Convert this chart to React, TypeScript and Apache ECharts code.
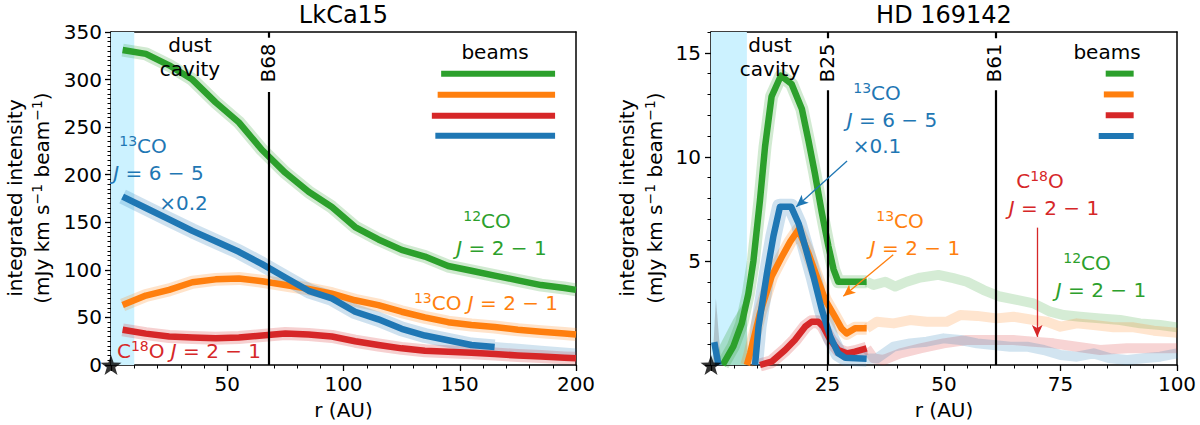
import React, { useEffect, useRef } from "react";
import * as echarts from "echarts";

const FONT = "DejaVu Sans";
const GREEN = "#2ca02c";
const ORANGE = "#ff7f0e";
const RED = "#d62728";
const BLUE = "#1f77b4";
const CAVITY = "#ccf2ff";

// ---------------- LkCa15 (left panel) ----------------
const lkR = [5, 15, 25, 35, 45, 55, 65, 75, 85, 95, 105, 115, 125, 135, 145, 155, 165, 175, 185, 195, 200];
const lk12CO = [331, 327, 315, 300, 276, 255, 226, 202, 182, 166, 145, 132, 121, 114, 104, 99, 94, 89, 84, 81, 79];
const lk13CO = [63, 73, 79, 87, 90, 91, 88, 84, 80, 75, 68, 63, 56, 50, 45, 42, 40, 37, 35, 33, 32];
const lkC18O = [37, 33, 30, 29, 28, 29, 31, 33, 32, 30, 25, 21, 17.5, 15, 14, 13, 11.5, 10, 9, 7.5, 7];
const lk65R = [5, 15, 25, 35, 45, 55, 65, 75, 85, 95, 105, 115, 125, 135, 145, 155, 165];
const lk65 = [177, 165, 153, 141, 130, 119, 106, 92, 78, 70, 56, 48, 38, 31, 26, 21, 19];
const lk65TailR = [165, 175, 185, 200];
const lk65Tail = [19, 17, 15, 12];
const lkBeamStart = [142, 140.5, 138, 139.5]; // 12CO, 13CO, C18O, 13CO 6-5
const lkBeamY = [306, 284, 262, 241];
const lkBeamEnd = 191;
const lkCavity = 10;
const lkRings = [68];
const lkRingTop = 287;
const lkRingTickFrom = 344;

// ---------------- HD 169142 (right panel) ----------------
const hd12R = [2.5, 4.8, 6.6, 8, 9.1, 10.5, 11.6, 13, 15, 17.3, 19.5, 20.9, 22.3, 23.8, 25.2, 26.3, 27.3, 33.4];
const hd12 = [0, 0.9, 2.0, 3.4, 5.0, 7.9, 10.5, 12.9, 13.9, 13.5, 12.3, 10.8, 9.2, 7.3, 5.7, 4.6, 4.0, 4.0];
const hd12TailR = [33.4, 34.9, 37.4, 39.5, 42, 44.9, 48.8, 52, 54.9, 58.5, 62, 65.6, 69.2, 72.8, 75.7, 79.2, 83.5, 87.8, 92.1, 96.4, 100];
const hd12Tail = [4.0, 3.85, 4.0, 3.77, 4.0, 4.2, 4.33, 4.17, 4.0, 3.6, 3.29, 3.13, 2.96, 2.56, 2.4, 2.32, 2.24, 2.16, 2.0, 1.92, 1.81];
const hd12ErrR = [1.0, 2.0, 4.8, 7.5, 8.0];
const hd12Err = [0, 1.0, 2.2, 3.2, 0];

const hd13R = [7.7, 8.4, 10.5, 13, 15.2, 17, 18.75, 20.9, 22.7, 24.5, 26.6, 28, 29.1, 30.9, 33.4];
const hd13 = [0, 0.56, 2.48, 4.25, 5.2, 5.93, 6.5, 5.37, 4.25, 3.13, 2.32, 1.76, 1.52, 1.76, 1.76];
const hd13TailR = [33.4, 35.6, 39.2, 42.7, 46.3, 50.6, 53.5, 57.1, 61.3, 64.9, 69.2, 72.1, 75, 78.5, 82.1, 86.4, 90.7, 95, 100];
const hd13Tail = [1.76, 2.08, 2.0, 2.16, 2.08, 2.08, 2.4, 2.36, 2.24, 2.32, 2.16, 2.08, 1.84, 2.0, 1.92, 1.81, 1.81, 1.65, 1.55];

const hd18R = [10.5, 13, 15.9, 18, 20.2, 21.6, 23, 24.1, 25.6, 27.3, 29.1, 30.9, 33.4];
const hd18 = [0, 0.16, 0.72, 1.2, 1.84, 2.08, 2.08, 1.84, 1.2, 0.72, 0.56, 0.64, 0.8];
const hd18TailR = [33.4, 34.9, 37, 40.6, 44.9, 49.9, 54.9, 60.6, 64.9, 69.2, 73.5, 78.5, 83.5, 89.3, 94.3, 100];
const hd18Tail = [0.8, 0.32, 0.24, 0.56, 0.8, 1.04, 1.2, 1.2, 1.2, 1.12, 1.04, 0.88, 0.72, 0.8, 0.8, 0.8];

const hd65StartR = [0.7, 1.6];
const hd65Start = [1.1, 0];
const hd65R = [9.45, 10.2, 12, 13.4, 14.8, 17.2, 18.8, 20.2, 22, 23.8, 25.6, 27.3, 28.8, 33.4];
const hd65 = [0, 1.84, 4.4, 6.2, 7.6, 7.6, 6.8, 5.7, 4.25, 2.64, 1.36, 0.56, 0.35, 0.3];
const hd65TailR = [33.4, 35.6, 39.2, 42.7, 46.3, 49.9, 53.5, 57.1, 60.6, 64.2, 67.8, 71.4, 75, 78.5, 82.1, 85.7, 89.3, 92.8, 96.4, 100];
const hd65Tail = [0.3, 0.32, 0.88, 1.04, 1.12, 1.28, 1.2, 1.04, 0.96, 0.88, 0.88, 0.72, 0.48, 0.4, 0.56, 0.32, 0.24, 0.32, 0.4, 0.56];

const hdSpikeR = [0.3, 1.05, 2.2];
const hdSpike = [0, 3.2, 0];

const hdBeamStart = [84.7, 84.3, 84.7, 83.2];
const hdBeamY = [14, 13, 12, 11];
const hdBeamEnd = 90.7;
const hdCavity = 7.7;
const hdRings = [25, 61];
const hdRingTop = 13.2;
const hdRingTickFrom = 15.7;
const hdArrowFrom = [[29.2, 9.8], [39.1, 5.3], [70, 6.6]];
const hdArrowTo = [[18.3, 7.6], [28.4, 3.3], [70, 1.35]];
const hdArrowColors = [BLUE, ORANGE, RED];

const BEAM_COLORS = [GREEN, ORANGE, RED, BLUE];

const STAR =
  "path://M0,-10L2.35,-3.24L9.51,-3.09L3.8,1.24L5.88,8.09L0,4L-5.88,8.09L-3.8,1.24L-9.51,-3.09L-2.35,-3.24Z";

const pairs = (xs: number[], ys: number[]) => xs.map((x, i) => [x, ys[i]]);

function lineS(g: number, xs: number[], ys: number[], color: string, width: number, opacity: number, z: number) {
  return {
    type: "line",
    xAxisIndex: g,
    yAxisIndex: g,
    data: pairs(xs, ys),
    symbol: "none",
    showSymbol: false,
    silent: true,
    z,
    lineStyle: { color, width, opacity, cap: "butt", join: "round" },
    emphasis: { disabled: true },
  };
}

function areaS(g: number, xs: number[], ys: number[], color: string, opacity: number) {
  return {
    type: "line",
    xAxisIndex: g,
    yAxisIndex: g,
    data: pairs(xs, ys),
    symbol: "none",
    silent: true,
    z: 2,
    lineStyle: { width: 0 },
    areaStyle: { color, opacity },
  };
}

const rich = (c: string) => ({
  n: { fill: c, fontSize: 20, fontFamily: FONT, lineHeight: 24 },
  s: { fill: c, fontSize: 14, fontFamily: FONT, lineHeight: 13, verticalAlign: "top" },
  i: { fill: c, fontSize: 20, fontFamily: FONT, fontStyle: "italic", lineHeight: 24 },
});

function txt(text: string, x: number, y: number, color = "#000", rotate = false, size = 20) {
  return {
    type: "text",
    x,
    y,
    rotation: rotate ? Math.PI / 2 : 0,
    z: 100,
    silent: true,
    style: {
      text,
      rich: rich(color),
      fill: color,
      fontSize: size,
      fontFamily: FONT,
      align: "center",
      verticalAlign: "middle",
    },
  };
}

const axisLineStyle = { color: "#000", width: 1.5 };

function xAxisMain(g: number, max: number, interval: number) {
  return {
    type: "value",
    gridIndex: g,
    min: 0,
    max,
    interval,
    axisLine: { show: true, onZero: false, lineStyle: axisLineStyle },
    axisTick: { show: true, length: 6, lineStyle: { color: "#000", width: 1.3 } },
    minorTick: { show: true, splitNumber: 5, length: 3.5, lineStyle: { color: "#000", width: 1 } },
    axisLabel: {
      color: "#000",
      fontSize: 20,
      fontFamily: FONT,
      margin: 9,
      formatter: (v: number) => (v === 0 ? "" : String(v)),
    },
    splitLine: { show: false },
    minorSplitLine: { show: false },
  };
}

function edgeAxis(g: number, position: string) {
  return {
    type: "value",
    gridIndex: g,
    position,
    min: 0,
    max: 1,
    axisLine: { show: true, onZero: false, lineStyle: axisLineStyle },
    axisTick: { show: false },
    axisLabel: { show: false },
    splitLine: { show: false },
  };
}

function beamSeries(g: number, starts: number[], ys: number[], end: number) {
  return starts.map((s, i) => ({
    type: "line",
    xAxisIndex: g,
    yAxisIndex: g,
    data: [
      [s, ys[i]],
      [end, ys[i]],
    ],
    symbol: "none",
    silent: true,
    z: 4,
    lineStyle: { color: BEAM_COLORS[i], width: 6, cap: "butt" },
  }));
}

function ringLines(g: number, rings: number[], top: number, tickFrom: number, ymax: number) {
  const data: any[] = [];
  rings.forEach((r) => {
    data.push([{ coord: [r, 0] }, { coord: [r, top] }]);
    data.push([{ coord: [r, tickFrom] }, { coord: [r, ymax] }]);
  });
  return {
    type: "line",
    xAxisIndex: g,
    yAxisIndex: g,
    data: [],
    silent: true,
    z: 6,
    markLine: {
      silent: true,
      symbol: ["none", "none"],
      label: { show: false },
      lineStyle: { color: "#000", width: 2.2, type: "solid" },
      emphasis: { disabled: true },
      data,
    },
  };
}

function cavitySeries(g: number, r: number) {
  return {
    type: "line",
    xAxisIndex: g,
    yAxisIndex: g,
    data: [],
    silent: true,
    z: 1,
    markArea: {
      silent: true,
      itemStyle: { color: CAVITY },
      emphasis: { disabled: true },
      data: [[{ xAxis: 0 }, { xAxis: r }]],
    },
  };
}

function starSeries(g: number) {
  return {
    type: "scatter",
    xAxisIndex: g,
    yAxisIndex: g,
    data: [[0, 0]],
    symbol: STAR,
    symbolSize: 21,
    symbolKeepAspect: true,
    itemStyle: { color: "#000" },
    clip: false,
    silent: true,
    z: 10,
  };
}

const BAND_W = 13;
const BAND_O = 0.22;
const MAIN_W = 6.5;
const TAIL_O = 0.2;
const TAIL_W = 10;

const series: any[] = [
  cavitySeries(0, lkCavity),
  cavitySeries(1, hdCavity),
  // left bands
  lineS(0, lkR, lk12CO, GREEN, BAND_W, BAND_O, 2),
  lineS(0, lkR, lk13CO, ORANGE, BAND_W, BAND_O, 2),
  lineS(0, lkR, lkC18O, RED, BAND_W, BAND_O, 2),
  lineS(0, lk65R, lk65, BLUE, BAND_W + 2, BAND_O, 2),
  lineS(0, lk65TailR, lk65Tail, BLUE, TAIL_W, TAIL_O, 2),
  // left main
  lineS(0, lkR, lk12CO, GREEN, MAIN_W, 1, 3),
  lineS(0, lkR, lk13CO, ORANGE, MAIN_W, 1, 3),
  lineS(0, lkR, lkC18O, RED, MAIN_W, 1, 3),
  lineS(0, lk65R, lk65, BLUE, MAIN_W, 1, 3),
  // right tails (faint)
  lineS(1, hd12TailR, hd12Tail, GREEN, TAIL_W, TAIL_O, 2),
  lineS(1, hd13TailR, hd13Tail, ORANGE, TAIL_W, TAIL_O, 2),
  lineS(1, hd18TailR, hd18Tail, RED, TAIL_W, TAIL_O, 2),
  lineS(1, hd65TailR, hd65Tail, BLUE, TAIL_W, TAIL_O, 2),
  areaS(1, hdSpikeR, hdSpike, "#7f7f7f", 0.4),
  areaS(1, hd12ErrR, hd12Err, GREEN, 0.25),
  // right bands
  lineS(1, hd12R, hd12, GREEN, BAND_W, BAND_O, 2),
  lineS(1, hd13R, hd13, ORANGE, BAND_W, BAND_O, 2),
  lineS(1, hd18R, hd18, RED, BAND_W, BAND_O, 2),
  lineS(1, hd65R, hd65, BLUE, BAND_W + 3, BAND_O, 2),
  // right main
  lineS(1, hd12R, hd12, GREEN, MAIN_W, 1, 3),
  lineS(1, hd13R, hd13, ORANGE, MAIN_W, 1, 3),
  lineS(1, hd18R, hd18, RED, MAIN_W, 1, 3),
  lineS(1, hd65StartR, hd65Start, BLUE, MAIN_W, 1, 3),
  lineS(1, hd65R, hd65, BLUE, MAIN_W, 1, 3),
  ...beamSeries(0, lkBeamStart, lkBeamY, lkBeamEnd),
  ...beamSeries(1, hdBeamStart, hdBeamY, hdBeamEnd),
  ringLines(0, lkRings, lkRingTop, lkRingTickFrom, 350),
  ringLines(1, hdRings, hdRingTop, hdRingTickFrom, 16),
  {
    type: "line",
    xAxisIndex: 1,
    yAxisIndex: 1,
    data: [],
    silent: true,
    z: 7,
    markLine: {
      silent: true,
      symbol: ["none", "arrow"],
      symbolSize: [8, 12],
      label: { show: false },
      emphasis: { disabled: true },
      data: hdArrowFrom.map((f, i) => [
        { coord: f, lineStyle: { color: hdArrowColors[i], width: 1.3, type: "solid" }, itemStyle: { color: hdArrowColors[i] } },
        { coord: hdArrowTo[i] },
      ]),
    },
  },
  starSeries(0),
  starSeries(1),
];

const graphic: any[] = [
  // titles
  txt("LkCa15", 343.5, 15, "#000", false, 24),
  txt("HD 169142", 944, 15, "#000", false, 24),
  // axis names
  txt("integrated intensity", 15, 198, "#000", true),
  txt("{n|(mJy km s}{s|−1}{n| beam}{s|−1}{n|)}", 42, 198, "#000", true),
  txt("integrated intensity", 627, 198, "#000", true),
  txt("{n|(mJy km s}{s|−1}{n| beam}{s|−1}{n|)}", 655, 198, "#000", true),
  txt("r (AU)", 343.5, 410),
  txt("r (AU)", 944, 410),
  // left annotations
  txt("dust", 190, 45),
  txt("cavity", 190, 69),
  txt("B68", 267.5, 63, "#000", true),
  txt("beams", 495, 52),
  txt("{s|13}{n|CO}", 143, 146, BLUE),
  txt("{i|J}{n| = 6 − 5}", 158.5, 173, BLUE),
  txt("{n|×0.2}", 183.5, 203, BLUE),
  txt("{s|12}{n|CO}", 487, 221, GREEN),
  txt("{i|J}{n| = 2 − 1}", 501.5, 248, GREEN),
  txt("{s|13}{n|CO }{i|J}{n| = 2 − 1}", 486, 303, ORANGE),
  txt("{n|C}{s|18}{n|O }{i|J}{n| = 2 − 1}", 189, 351, RED),
  // right annotations
  txt("dust", 770, 45),
  txt("cavity", 770, 69),
  txt("B25", 827, 63, "#000", true),
  txt("B61", 994, 63, "#000", true),
  txt("beams", 1107, 52),
  txt("{s|13}{n|CO}", 877, 93, BLUE),
  txt("{i|J}{n| = 6 − 5}", 892, 120, BLUE),
  txt("{n|×0.1}", 877, 146, BLUE),
  txt("{s|13}{n|CO}", 900, 221, ORANGE),
  txt("{i|J}{n| = 2 − 1}", 915, 248, ORANGE),
  txt("{n|C}{s|18}{n|O}", 1040, 181, RED),
  txt("{i|J}{n| = 2 − 1}", 1054, 208, RED),
  txt("{s|12}{n|CO}", 1087, 263, GREEN),
  txt("{i|J}{n| = 2 − 1}", 1101, 290, GREEN),
];

const option: any = {
  animation: false,
  textStyle: { fontFamily: FONT },
  grid: [
    { left: 111, top: 32, width: 465, height: 333, show: false },
    { left: 711, top: 32, width: 466, height: 333, show: false },
  ],
  xAxis: [xAxisMain(0, 200, 50), xAxisMain(1, 100, 25), edgeAxis(0, "top"), edgeAxis(1, "top")],
  yAxis: [
    {
      type: "value",
      gridIndex: 0,
      min: 0,
      max: 350,
      interval: 50,
      axisLine: { show: true, onZero: false, lineStyle: axisLineStyle },
      axisTick: { show: true, length: 6, lineStyle: { color: "#000", width: 1.3 } },
      minorTick: { show: true, splitNumber: 10, length: 3.5, lineStyle: { color: "#000", width: 1 } },
      axisLabel: { color: "#000", fontSize: 20, fontFamily: FONT, margin: 9 },
      splitLine: { show: false },
      minorSplitLine: { show: false },
    },
    {
      type: "value",
      gridIndex: 1,
      min: 0,
      max: 16,
      interval: 1,
      axisLine: { show: true, onZero: false, lineStyle: axisLineStyle },
      axisTick: { show: true, length: 3.5, lineStyle: { color: "#000", width: 1 } },
      axisLabel: {
        color: "#000",
        fontSize: 20,
        fontFamily: FONT,
        margin: 10,
        formatter: (v: number) => (v > 0 && v % 5 === 0 ? String(v) : ""),
      },
      splitLine: { show: false },
    },
    {
      type: "value",
      gridIndex: 1,
      position: "left",
      min: 0,
      max: 16,
      interval: 5,
      axisLine: { show: false },
      axisTick: { show: true, length: 6, customValues: [0, 5, 10, 15], lineStyle: { color: "#000", width: 1.3 } },
      axisLabel: { show: false },
      splitLine: { show: false },
    },
    edgeAxis(0, "right"),
    edgeAxis(1, "right"),
  ],
  series,
  graphic,
};

export default function App() {
  const ref = useRef<HTMLDivElement>(null);
  useEffect(() => {
    const chart = echarts.init(ref.current!, null, { renderer: "svg" });
    chart.setOption(option);
    return () => chart.dispose();
  }, []);
  return (
    <div
      ref={ref}
      style={{ position: "absolute", left: 0, top: 0, width: 1200, height: 425, background: "#fff" }}
    />
  );
}
